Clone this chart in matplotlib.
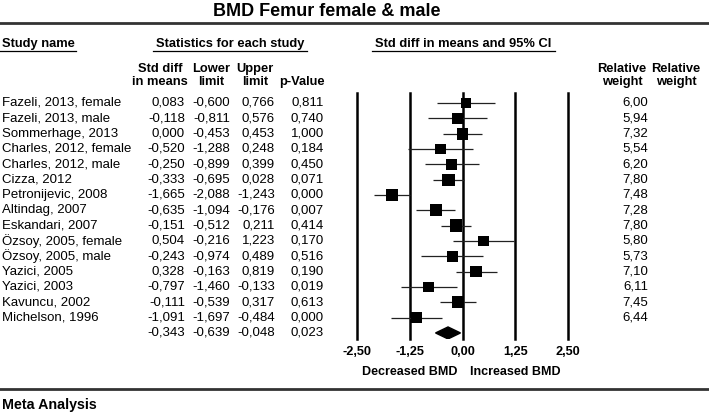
import matplotlib
matplotlib.use("Agg")
import matplotlib.pyplot as plt
from matplotlib.transforms import blended_transform_factory
from matplotlib.patches import Polygon
import numpy as np

plt.rcParams['font.family'] = ['Liberation Sans', 'DejaVu Sans']

# datos del forest plot
studies = ["Fazeli, 2013, female", "Fazeli, 2013, male", "Sommerhage, 2013",
           "Charles, 2012, female", "Charles, 2012, male", "Cizza, 2012",
           "Petronijevic, 2008", "Altindag, 2007", "Eskandari, 2007",
           "Özsoy, 2005, female", "Özsoy, 2005, male", "Yazici, 2005",
           "Yazici, 2003", "Kavuncu, 2002", "Michelson, 1996"]
smd = [0.083, -0.118, 0.000, -0.520, -0.250, -0.333, -1.665, -0.635, -0.151,
       0.504, -0.243, 0.328, -0.797, -0.111, -1.091]
lower = [-0.600, -0.811, -0.453, -1.288, -0.899, -0.695, -2.088, -1.094, -0.512,
         -0.216, -0.974, -0.163, -1.460, -0.539, -1.697]
upper = [0.766, 0.576, 0.453, 0.248, 0.399, 0.028, -1.243, -0.176, 0.211,
         1.223, 0.489, 0.819, -0.133, 0.317, -0.484]
pvals = [0.811, 0.740, 1.000, 0.184, 0.450, 0.071, 0.000, 0.007, 0.414,
         0.170, 0.516, 0.190, 0.019, 0.613, 0.000]
weights = [6.00, 5.94, 7.32, 5.54, 6.20, 7.80, 7.48, 7.28, 7.80,
           5.80, 5.73, 7.10, 6.11, 7.45, 6.44]
summary = [-0.343, -0.639, -0.048, 0.023]
ticks = [-2.5, -1.25, 0.0, 1.25, 2.5]

W, H = 709, 415


def fmt(v, d=3):
    return f"{v:.{d}f}".replace(".", ",")


def fx(px):
    return px / W


def fy(py):
    return 1 - py / H


fig = plt.figure(figsize=(W / 100, H / 100), dpi=100)

# eje del forest plot: -2.5 -> 357px, 2.5 -> 568px ; filas 103px + 15.33*i
row0, dy = 103, 15.33
top_px, bot_px = 93, 339
ax = fig.add_axes([fx(357), fy(bot_px), fx(568 - 357), (bot_px - top_px) / H])
ax.set_xlim(-2.5, 2.5)
ax.set_ylim((bot_px - row0) / dy, (top_px - row0) / dy)
for s in ax.spines.values():
    s.set_visible(False)
ax.set_yticks([])
ax.set_xticks(ticks)
ax.set_xticklabels([fmt(t, 2) for t in ticks], fontweight='bold', fontsize=9.2)
ax.tick_params(axis='x', length=0, pad=5)
ax.patch.set_alpha(0)

for t in ticks:
    ax.axvline(t, color='black', lw=1.8, clip_on=False, zorder=1)

n = len(studies)
rows = np.arange(n)
ax.hlines(rows, lower, upper, color='#222222', lw=0.9, zorder=2)
side = 4.4 * np.sqrt(np.array(weights)) * 0.72
ax.scatter(smd, rows, marker='s', s=side ** 2, color='black', zorder=3, linewidths=0)

hd = 6 / dy
ax.add_patch(Polygon([[summary[1], n], [summary[0], n - hd], [summary[2], n],
                      [summary[0], n + hd]], closed=True, color='black', zorder=3))

bt = blended_transform_factory(ax.transData, fig.transFigure)
ax.text(-1.25, fy(372), "Decreased BMD", transform=bt,
        ha='center', va='center', fontweight='bold', fontsize=9)
ax.text(1.25, fy(372), "Increased BMD", transform=bt,
        ha='center', va='center', fontweight='bold', fontsize=9)

# tabla
tr = blended_transform_factory(fig.transFigure, ax.transData)
fs = 9.5
for i in range(n):
    ax.text(fx(2), i, studies[i], transform=tr, ha='left', va='center', fontsize=fs, clip_on=False)
    ax.text(fx(185), i, fmt(smd[i]), transform=tr, ha='right', va='center', fontsize=fs)
    ax.text(fx(230), i, fmt(lower[i]), transform=tr, ha='right', va='center', fontsize=fs)
    ax.text(fx(275), i, fmt(upper[i]), transform=tr, ha='right', va='center', fontsize=fs)
    ax.text(fx(324), i, fmt(pvals[i]), transform=tr, ha='right', va='center', fontsize=fs)
    ax.text(fx(648), i, fmt(weights[i], 2), transform=tr, ha='right', va='center', fontsize=fs)
ax.text(fx(185), n, fmt(summary[0]), transform=tr, ha='right', va='center', fontsize=fs)
ax.text(fx(230), n, fmt(summary[1]), transform=tr, ha='right', va='center', fontsize=fs)
ax.text(fx(275), n, fmt(summary[2]), transform=tr, ha='right', va='center', fontsize=fs)
ax.text(fx(324), n, fmt(summary[3]), transform=tr, ha='right', va='center', fontsize=fs)

# titulo y encabezados
fig.text(fx(327), fy(12), "BMD Femur female & male", ha='center', va='center',
         fontweight='bold', fontsize=13)
fig.add_artist(plt.Line2D([0, 1], [fy(23), fy(23)], color='#333333', lw=2))
fig.add_artist(plt.Line2D([0, 1], [fy(389), fy(389)], color='#333333', lw=2))
fig.text(fx(2), fy(405), "Meta Analysis", ha='left', va='center', fontweight='bold', fontsize=10.3)

hfs = 9.3
fig.text(fx(2), fy(44), "Study name", ha='left', va='center', fontweight='bold', fontsize=hfs)
fig.text(fx(230), fy(44), "Statistics for each study", ha='center', va='center', fontweight='bold', fontsize=hfs)
fig.text(fx(463), fy(44), "Std diff in means and 95% CI", ha='center', va='center', fontweight='bold', fontsize=hfs)
for x0, x1 in [(0, 76), (153, 307), (372, 555)]:
    fig.add_artist(plt.Line2D([fx(x0), fx(x1)], [fy(51), fy(51)], color='black', lw=0.9))

sub = [(160, "Std diff", "in means"), (211, "Lower", "limit"), (255, "Upper", "limit"),
       (302, "", "p-Value"), (622, "Relative", "weight"), (676, "Relative", "weight")]
for x, a, b in sub:
    fig.text(fx(x), fy(69), a, ha='center', va='center', fontweight='bold', fontsize=hfs)
    fig.text(fx(x), fy(82), b, ha='center', va='center', fontweight='bold', fontsize=hfs)

fig.savefig("out.png", dpi=100)
